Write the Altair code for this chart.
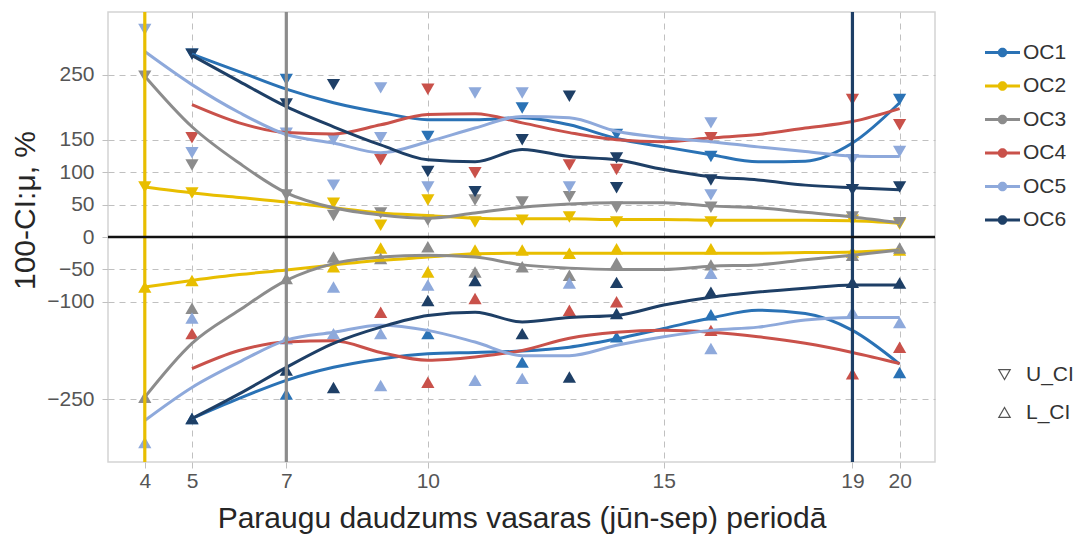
import altair as alt
import pandas as pd

SERIES = ["OC1", "OC2", "OC3", "OC4", "OC5", "OC6"]
COLORS = ["#2A72B5", "#E8BE00", "#8C8C8C", "#C9514A", "#8EA9DB", "#1E3F66"]
BOUNDS = ["U_CI", "L_CI"]

X_TICKS = [4, 5, 7, 10, 15, 19, 20]
Y_TICKS = [250, 150, 100, 50, 0, -50, -100, -250]

# optimal sample sizes (vertical lines)
OPT_N = [4, 7, 19]
OPT_SERIES = ["OC2", "OC3", "OC6"]

# ---- smooth curves (upper / lower) ----
OC1_cx = list(range(5, 21))
OC1_up = [282, 255, 228, 207, 192, 181, 181, 184, 173, 152, 139, 127, 116, 117, 145, 207]
OC1_lo = [-280, -249, -221, -201, -188, -180, -178, -176, -170, -157, -141, -125, -113, -118, -144, -196]

OC2_cx = list(range(4, 21))
OC2_up = [77, 68, 61, 54, 45, 37, 33, 29, 28, 28, 27, 27, 26, 26, 26, 25, 21]
OC2_lo = [-77, -67, -58, -51, -43, -36, -31, -26, -25, -25, -25, -25, -25, -25, -24, -23, -20]

OC3_cx = list(range(4, 21))
OC3_up = [248, 170, 114, 68, 45, 34, 29, 37, 46, 51, 53, 53, 48, 45, 38, 31, 22]
OC3_lo = [-247, -164, -113, -67, -41, -31, -28, -31, -43, -48, -50, -50, -45, -43, -35, -28, -20]

OC4_cx = list(range(5, 21))
OC4_up = [204, 176, 161, 159, 173, 189, 190, 176, 161, 150, 147, 153, 158, 168, 178, 198]
OC4_lo = [-203, -175, -162, -160, -178, -190, -185, -175, -156, -147, -144, -147, -154, -164, -178, -195]

OC5_cx = list(range(4, 21))
OC5_up = [286, 235, 192, 158, 145, 130, 147, 168, 186, 184, 163, 153, 147, 139, 132, 125, 124]
OC5_lo = [-283, -232, -193, -159, -147, -136, -144, -162, -183, -183, -167, -154, -144, -139, -128, -124, -124]

OC6_cx = list(range(5, 21))
OC6_up = [280, 240, 201, 170, 142, 119, 116, 135, 124, 119, 104, 93, 88, 80, 76, 73]
OC6_lo = [-280, -242, -201, -164, -139, -121, -116, -131, -124, -121, -105, -93, -85, -79, -74, -74]

# ---- confidence-interval markers ----
OC1_n = [5, 7, 10, 12, 14, 16, 20]
OC1_U = [282, 243, 155, 199, 158, 124, 212]
OC1_L = [-280, -242, -149, -193, -154, -120, -209]

OC2_n = [4, 5, 8, 9, 10, 11, 12, 13, 14, 16, 19, 20]
OC2_U = [77, 68, 52, 18, 57, 23, 26, 31, 23, 23, 26, 20]
OC2_L = [-77, -67, -46, -17, -54, -20, -20, -25, -18, -18, -23, -20]

OC3_n = [4, 5, 7, 8, 9, 10, 11, 12, 13, 14, 16, 19, 20]
OC3_U = [248, 111, 65, 33, 37, 26, 57, 54, 62, 46, 46, 31, 22]
OC3_L = [-247, -110, -64, -31, -33, -15, -54, -46, -59, -40, -43, -28, -17]

OC4_n = [5, 9, 10, 11, 13, 14, 16, 19, 20]
OC4_U = [153, 119, 228, 99, 111, 104, 153, 212, 173]
OC4_L = [-149, -116, -224, -95, -113, -100, -144, -211, -170]

OC5_n = [4, 5, 7, 8, 8, 9, 9, 10, 11, 12, 13, 16, 16, 19, 20]
OC5_U = [320, 130, 160, 80, 150, 230, 153, 77, 222, 222, 77, 176, 65, 119, 132]
OC5_L = [-317, -125, -157, -77, -149, -229, -149, -74, -221, -218, -71, -172, -56, -116, -132]

OC6_n = [5, 7, 8, 10, 11, 12, 13, 14, 14, 16, 19, 20]
OC6_U = [282, 205, 235, 101, 70, 150, 217, 76, 122, 88, 73, 77]
OC6_L = [-280, -205, -232, -98, -67, -149, -216, -70, -118, -85, -70, -71]

CURVES = {
    "OC1": (OC1_cx, OC1_up, OC1_lo),
    "OC2": (OC2_cx, OC2_up, OC2_lo),
    "OC3": (OC3_cx, OC3_up, OC3_lo),
    "OC4": (OC4_cx, OC4_up, OC4_lo),
    "OC5": (OC5_cx, OC5_up, OC5_lo),
    "OC6": (OC6_cx, OC6_up, OC6_lo),
}
MARKS = {
    "OC1": (OC1_n, OC1_U, OC1_L),
    "OC2": (OC2_n, OC2_U, OC2_L),
    "OC3": (OC3_n, OC3_U, OC3_L),
    "OC4": (OC4_n, OC4_U, OC4_L),
    "OC5": (OC5_n, OC5_U, OC5_L),
    "OC6": (OC6_n, OC6_U, OC6_L),
}

curve_rows = []
for s, (xs, ups, los) in CURVES.items():
    for x, v in zip(xs, ups):
        curve_rows.append({"n": x, "v": v, "series": s, "side": "upper"})
    for x, v in zip(xs, los):
        curve_rows.append({"n": x, "v": v, "series": s, "side": "lower"})
curve_df = pd.DataFrame(curve_rows)

mark_rows = []
for s, (xs, us, ls) in MARKS.items():
    for x, v in zip(xs, us):
        mark_rows.append({"n": x, "v": v, "series": s, "bound": "U_CI"})
    for x, v in zip(xs, ls):
        mark_rows.append({"n": x, "v": v, "series": s, "bound": "L_CI"})
mark_df = pd.DataFrame(mark_rows)

opt_df = pd.DataFrame({"n": OPT_N, "series": OPT_SERIES})
zero_df = pd.DataFrame({"v": [0]})

FONT = "Liberation Sans"
xscale = alt.Scale(domain=[3.22, 20.75], nice=False, zero=False)
yscale = alt.Scale(domain=[-347, 347], nice=False, zero=False)
cscale = alt.Scale(domain=SERIES, range=COLORS)
sscale = alt.Scale(domain=BOUNDS, range=["triangle-down", "triangle-up"])

x_axis = alt.Axis(
    values=X_TICKS, grid=True, gridDash=[6, 5], gridColor="#c0c0c0", gridWidth=1,
    domain=False, ticks=True, tickSize=6, tickColor="#c0c0c0",
    labelFont=FONT, labelFontSize=21, labelColor="#555555", labelPadding=2,
    title="Paraugu daudzums vasaras (jūn-sep) periodā",
    titleFont=FONT, titleFontSize=30, titleFontWeight="normal", titleColor="#262626",
    titlePadding=12,
)
y_axis = alt.Axis(
    values=Y_TICKS, grid=True, gridDash=[6, 5], gridColor="#c0c0c0", gridWidth=1,
    domain=False, ticks=True, tickSize=6, tickColor="#c0c0c0",
    labelFont=FONT, labelFontSize=21, labelColor="#555555", labelPadding=8,
    title="100-CI:μ, %",
    titleFont=FONT, titleFontSize=30, titleFontWeight="normal", titleColor="#262626",
    titlePadding=6, titleY=198,
)

LEG_PATH = ("M-1.4,-0.12L1.4,-0.12L1.4,0.12L-1.4,0.12Z "
            "M0.38,0A0.38,0.38 0 1,1 -0.38,0A0.38,0.38 0 1,1 0.38,0Z")

color_legend = alt.Legend(
    title=None, orient="none", direction="vertical", legendX=882, legendY=28,
    symbolType=LEG_PATH, symbolSize=625, symbolStrokeWidth=0,
    labelFont=FONT, labelFontSize=21, labelColor="#333333", labelOffset=8,
    rowPadding=10.5, padding=0,
)
shape_legend = alt.Legend(
    title=None, orient="none", direction="vertical", legendX=886, legendY=352,
    symbolSize=130, symbolFillColor="white", symbolStrokeColor="#555555",
    symbolStrokeWidth=1.2,
    labelFont=FONT, labelFontSize=21, labelColor="#333333", labelOffset=11,
    rowPadding=16, padding=0,
)

X_ENC = alt.X("n:Q", scale=xscale, axis=x_axis)
Y_ENC = alt.Y("v:Q", scale=yscale, axis=y_axis)
C_ENC = alt.Color("series:N", scale=cscale, legend=color_legend)

curves = alt.Chart(curve_df).mark_line(strokeWidth=3, interpolate="monotone").encode(
    x=X_ENC, y=Y_ENC, color=C_ENC, detail="side:N",
)

points = alt.Chart(mark_df).mark_point(filled=True, size=175, opacity=1, strokeWidth=0).encode(
    x=X_ENC, y=Y_ENC, color=C_ENC,
    shape=alt.Shape("bound:N", scale=sscale, legend=shape_legend),
)

vlines = alt.Chart(opt_df).mark_rule(strokeWidth=3.2).encode(
    x=X_ENC, color=C_ENC,
)

zero = alt.Chart(zero_df).mark_rule(strokeWidth=2.6, color="#111111").encode(
    y=Y_ENC,
)

chart = alt.layer(points, curves, vlines, zero).properties(
    width=827, height=450,
    autosize=alt.AutoSizeParams(type="none"),
    padding={"left": 108, "top": 12, "right": 144, "bottom": 73},
    background="white",
).configure_view(stroke="#d4d4d4", strokeWidth=1.5)

chart.save("out.html", embed_options={"renderer": "svg", "actions": False})
